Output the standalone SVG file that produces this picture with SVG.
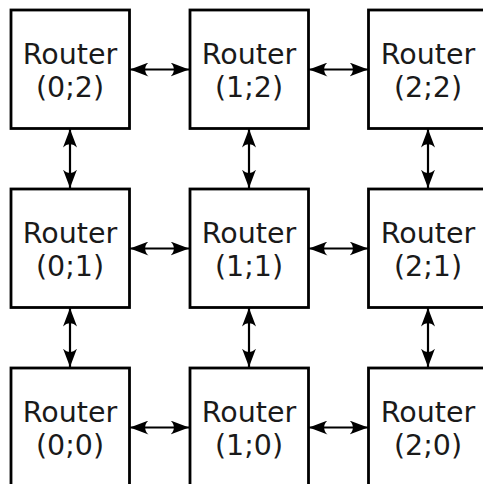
<svg xmlns="http://www.w3.org/2000/svg" width="483" height="484" viewBox="0 0 483 484">
  <style>
    .box { fill: #ffffff; stroke: #000000; stroke-width: 2.8; }
    .lbl { font-family: "DejaVu Sans", sans-serif; font-size: 28.5px; fill: #1a1a1a; text-anchor: middle; }
    .link { stroke: #000000; stroke-width: 2.2; fill: none; marker-start: url(#head); marker-end: url(#head); }
  </style>
  <defs>
    <marker id="head" viewBox="0 0 19 14" refX="18.5" refY="7" markerWidth="19" markerHeight="14" markerUnits="userSpaceOnUse" orient="auto-start-reverse">
      <path d="M18.5,7 L0,0 C4.5,4 4.5,10 0,14 Z" fill="#000000"/>
    </marker>
  </defs>
  <rect width="483" height="484" fill="#ffffff"/>

  <!-- links between neighbouring routers -->
  <g id="links">
    <!-- horizontal links -->
    <line class="link" x1="130" y1="69.5" x2="189" y2="69.5"/>
    <line class="link" x1="309" y1="69.5" x2="368" y2="69.5"/>
    <line class="link" x1="130" y1="248.5" x2="189" y2="248.5"/>
    <line class="link" x1="309" y1="248.5" x2="368" y2="248.5"/>
    <line class="link" x1="130" y1="427.5" x2="189" y2="427.5"/>
    <line class="link" x1="309" y1="427.5" x2="368" y2="427.5"/>
    <!-- vertical links -->
    <line class="link" x1="70" y1="129" x2="70" y2="188"/>
    <line class="link" x1="249" y1="129" x2="249" y2="188"/>
    <line class="link" x1="428" y1="129" x2="428" y2="188"/>
    <line class="link" x1="70" y1="308" x2="70" y2="367"/>
    <line class="link" x1="249" y1="308" x2="249" y2="367"/>
    <line class="link" x1="428" y1="308" x2="428" y2="367"/>
  </g>

  <g id="router-0-2">
    <rect class="box" x="11" y="10" width="118.5" height="118.5"/>
    <text class="lbl" x="70" y="63.5">Router</text>
    <text class="lbl" x="70" y="97">(0;2)</text>
  </g>
  <g id="router-1-2">
    <rect class="box" x="190" y="10" width="118.5" height="118.5"/>
    <text class="lbl" x="249" y="63.5">Router</text>
    <text class="lbl" x="249" y="97">(1;2)</text>
  </g>
  <g id="router-2-2">
    <rect class="box" x="368.5" y="10" width="118.5" height="118.5"/>
    <text class="lbl" x="428" y="63.5">Router</text>
    <text class="lbl" x="428" y="97">(2;2)</text>
  </g>

  <g id="router-0-1">
    <rect class="box" x="11" y="189" width="118.5" height="118.5"/>
    <text class="lbl" x="70" y="242.5">Router</text>
    <text class="lbl" x="70" y="276">(0;1)</text>
  </g>
  <g id="router-1-1">
    <rect class="box" x="190" y="189" width="118.5" height="118.5"/>
    <text class="lbl" x="249" y="242.5">Router</text>
    <text class="lbl" x="249" y="276">(1;1)</text>
  </g>
  <g id="router-2-1">
    <rect class="box" x="368.5" y="189" width="118.5" height="118.5"/>
    <text class="lbl" x="428" y="242.5">Router</text>
    <text class="lbl" x="428" y="276">(2;1)</text>
  </g>

  <g id="router-0-0">
    <rect class="box" x="11" y="368" width="118.5" height="118.5"/>
    <text class="lbl" x="70" y="421.5">Router</text>
    <text class="lbl" x="70" y="455">(0;0)</text>
  </g>
  <g id="router-1-0">
    <rect class="box" x="190" y="368" width="118.5" height="118.5"/>
    <text class="lbl" x="249" y="421.5">Router</text>
    <text class="lbl" x="249" y="455">(1;0)</text>
  </g>
  <g id="router-2-0">
    <rect class="box" x="368.5" y="368" width="118.5" height="118.5"/>
    <text class="lbl" x="428" y="421.5">Router</text>
    <text class="lbl" x="428" y="455">(2;0)</text>
  </g>
</svg>
